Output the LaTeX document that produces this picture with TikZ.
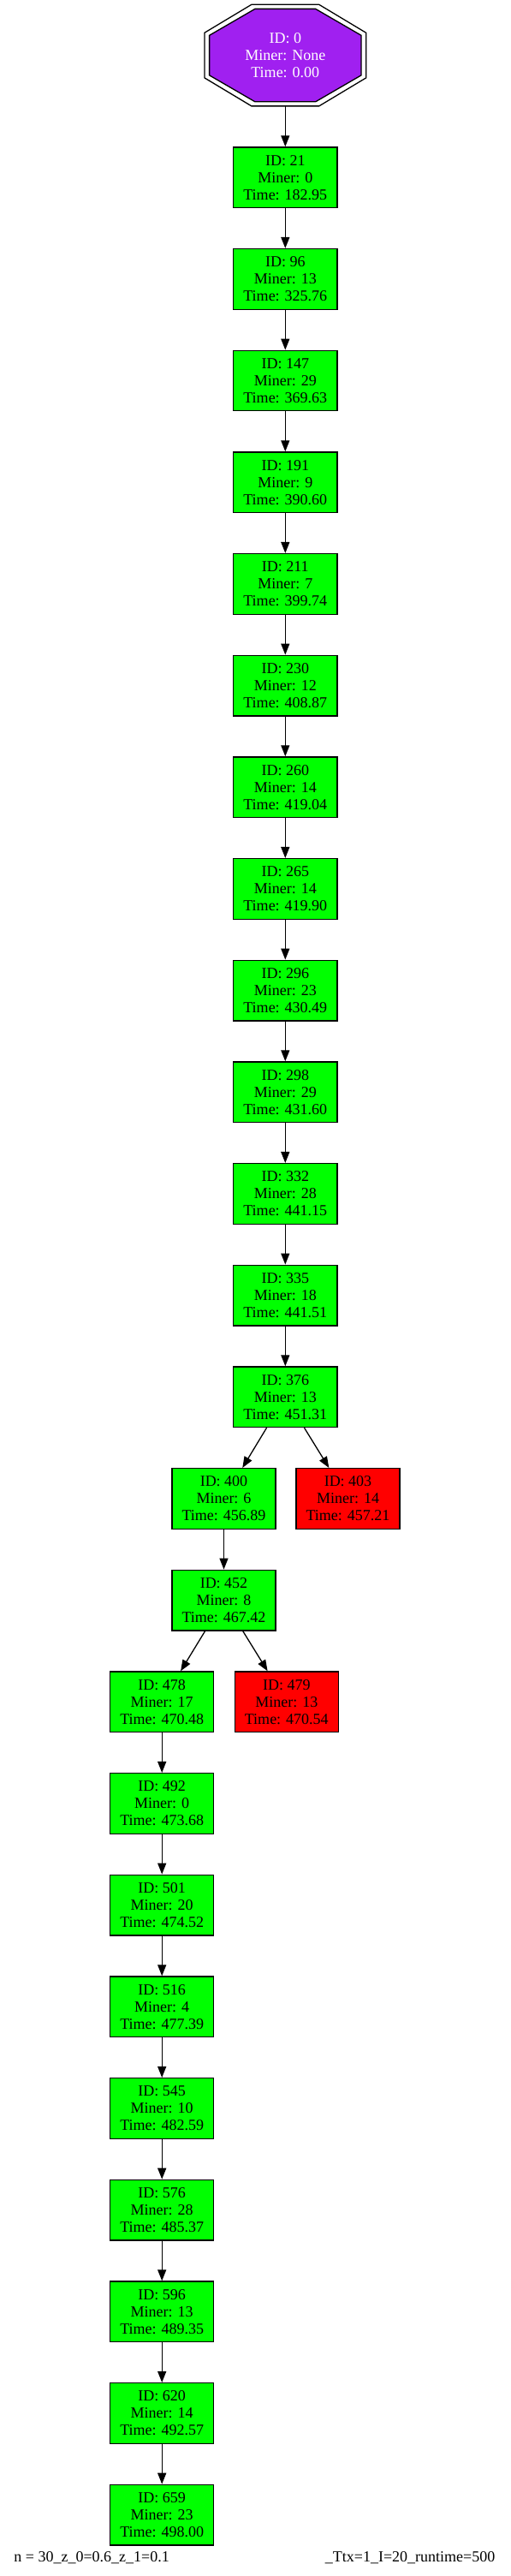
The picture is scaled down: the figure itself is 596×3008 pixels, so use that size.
\documentclass[tikz,border=0pt]{standalone}
\usepackage{fontspec}
\setmainfont{Liberation Serif}
\usetikzlibrary{arrows.meta}
\definecolor{gvgreen}{HTML}{00FF00}
\definecolor{gvred}{HTML}{FF0000}
\definecolor{gvpurple}{HTML}{A020F0}
\tikzset{
  blk/.style={draw=black, line width=0.65pt, minimum width=60.6pt, minimum height=35.3pt,
    inner sep=0pt, align=center, font=\fontsize{9}{10}\selectfont},
  okblk/.style={blk, fill=gvgreen},
  badblk/.style={blk, fill=gvred},
  edge/.style={draw=black, line width=0.65pt, -{Triangle[length=6.5pt,width=5pt]}},
  foot/.style={inner sep=0pt, font=\fontsize{9}{10}\selectfont},
  octline/.style={draw=black, line width=0.65pt}
}
\begin{document}
\begin{tikzpicture}[x=0.5pt,y=-0.5pt]
\useasboundingbox (0,0) rectangle (596,3008);
% genesis double octagon
\begin{scope}[shift={(333.3,64.6)}]
\path[octline, fill=white] (-39.4,-59.3) -- (39.4,-59.3) -- (94.4,-26.3) -- (94.4,26.3) -- (39.4,59.3) -- (-39.4,59.3) -- (-94.4,26.3) -- (-94.4,-26.3) -- cycle;
\path[octline, fill=gvpurple] (-35.4,-54.2) -- (35.4,-54.2) -- (88.7,-23.3) -- (88.7,23.3) -- (35.4,54.2) -- (-35.4,54.2) -- (-88.7,23.3) -- (-88.7,-23.3) -- cycle;
\end{scope}
\node[minimum width=94.4pt, minimum height=59.3pt, inner sep=0pt, align=center,
  text=white, font=\fontsize{9}{10}\selectfont] (n0) at (333.3,64.6) {ID: 0\\Miner: None\\Time: 0.00};
% main chain
\node[okblk] (n21)  at (333.3,207.2)   {ID: 21\\Miner: 0\\Time: 182.95};
\node[okblk] (n96)  at (333.3,325.87)  {ID: 96\\Miner: 13\\Time: 325.76};
\node[okblk] (n147) at (333.3,444.54)  {ID: 147\\Miner: 29\\Time: 369.63};
\node[okblk] (n191) at (333.3,563.21)  {ID: 191\\Miner: 9\\Time: 390.60};
\node[okblk] (n211) at (333.3,681.88)  {ID: 211\\Miner: 7\\Time: 399.74};
\node[okblk] (n230) at (333.3,800.55)  {ID: 230\\Miner: 12\\Time: 408.87};
\node[okblk] (n260) at (333.3,919.22)  {ID: 260\\Miner: 14\\Time: 419.04};
\node[okblk] (n265) at (333.3,1037.89) {ID: 265\\Miner: 14\\Time: 419.90};
\node[okblk] (n296) at (333.3,1156.56) {ID: 296\\Miner: 23\\Time: 430.49};
\node[okblk] (n298) at (333.3,1275.23) {ID: 298\\Miner: 29\\Time: 431.60};
\node[okblk] (n332) at (333.3,1393.9)  {ID: 332\\Miner: 28\\Time: 441.15};
\node[okblk] (n335) at (333.3,1512.57) {ID: 335\\Miner: 18\\Time: 441.51};
\node[okblk] (n376) at (333.3,1631.24) {ID: 376\\Miner: 13\\Time: 451.31};
\node[okblk] (n400) at (261.5,1749.91) {ID: 400\\Miner: 6\\Time: 456.89};
\node[badblk] (n403) at (406.5,1749.91) {ID: 403\\Miner: 14\\Time: 457.21};
\node[okblk] (n452) at (261.5,1868.58) {ID: 452\\Miner: 8\\Time: 467.42};
\node[okblk] (n478) at (189.2,1987.25) {ID: 478\\Miner: 17\\Time: 470.48};
\node[badblk] (n479) at (334.8,1987.25) {ID: 479\\Miner: 13\\Time: 470.54};
\node[okblk] (n492) at (189.2,2105.92) {ID: 492\\Miner: 0\\Time: 473.68};
\node[okblk] (n501) at (189.2,2224.59) {ID: 501\\Miner: 20\\Time: 474.52};
\node[okblk] (n516) at (189.2,2343.26) {ID: 516\\Miner: 4\\Time: 477.39};
\node[okblk] (n545) at (189.2,2461.93) {ID: 545\\Miner: 10\\Time: 482.59};
\node[okblk] (n576) at (189.2,2580.6)  {ID: 576\\Miner: 28\\Time: 485.37};
\node[okblk] (n596) at (189.2,2699.27) {ID: 596\\Miner: 13\\Time: 489.35};
\node[okblk] (n620) at (189.2,2817.94) {ID: 620\\Miner: 14\\Time: 492.57};
\node[okblk] (n659) at (189.2,2936.61) {ID: 659\\Miner: 23\\Time: 498.00};
% edges
\draw[edge] (n0) -- (n21);
\draw[edge] (n21) -- (n96);
\draw[edge] (n96) -- (n147);
\draw[edge] (n147) -- (n191);
\draw[edge] (n191) -- (n211);
\draw[edge] (n211) -- (n230);
\draw[edge] (n230) -- (n260);
\draw[edge] (n260) -- (n265);
\draw[edge] (n265) -- (n296);
\draw[edge] (n296) -- (n298);
\draw[edge] (n298) -- (n332);
\draw[edge] (n332) -- (n335);
\draw[edge] (n335) -- (n376);
\draw[edge] (n376) -- (n400);
\draw[edge] (n376) -- (n403);
\draw[edge] (n400) -- (n452);
\draw[edge] (n452) -- (n478);
\draw[edge] (n452) -- (n479);
\draw[edge] (n478) -- (n492);
\draw[edge] (n492) -- (n501);
\draw[edge] (n501) -- (n516);
\draw[edge] (n516) -- (n545);
\draw[edge] (n545) -- (n576);
\draw[edge] (n576) -- (n596);
\draw[edge] (n596) -- (n620);
\draw[edge] (n620) -- (n659);
% footer
\node[foot, anchor=base west] (fl) at (16,2991) {n = 30\_z\_0=0.6\_z\_1=0.1};
\node[foot, anchor=base east] (fr) at (578.7,2991) {\_Ttx=1\_I=20\_runtime=500};
\end{tikzpicture}
\end{document}
